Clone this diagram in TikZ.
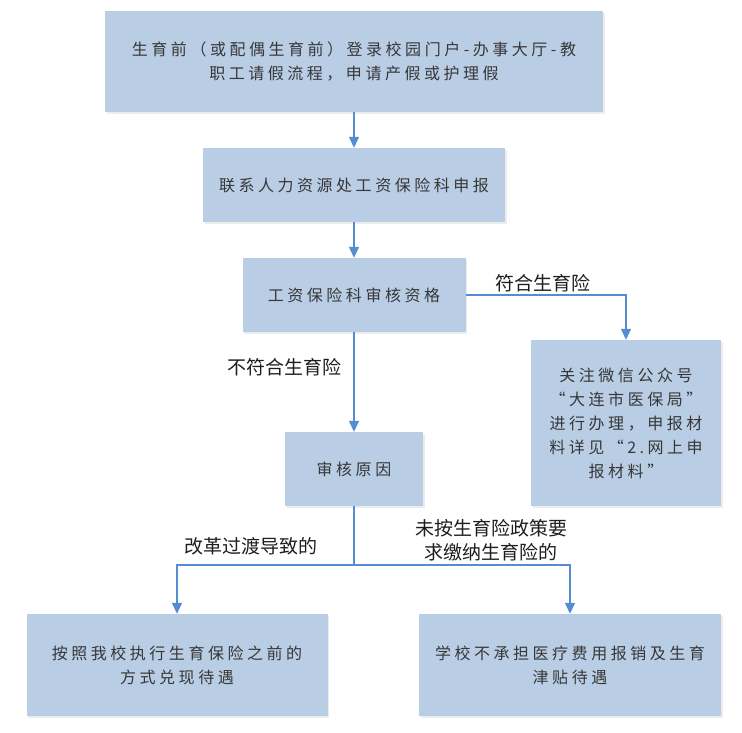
\documentclass[tikz,border=0pt]{standalone}
\usepackage{fontspec}
\usetikzlibrary{arrows.meta,shadows}
\newfontfamily\cjkbox{Noto Sans CJK SC}[LetterSpace=22]
\newfontfamily\cjklab{Noto Sans CJK SC}
\definecolor{boxfill}{RGB}{185,205,229}
\definecolor{linecol}{RGB}{84,141,212}
\definecolor{boxtext}{RGB}{55,55,55}
\definecolor{labtext}{RGB}{30,30,30}
\tikzset{
  fbox/.style={rectangle, fill=boxfill, inner sep=0pt, align=center,
    text=boxtext, font={\cjkbox\fontsize{16}{24}\selectfont},
    drop shadow={shadow xshift=1.5pt, shadow yshift=-1.5pt, fill=black!12, opacity=0.6}},
  flink/.style={draw=linecol, line width=1.3pt},
  farrow/.style={flink, -{Triangle[length=11pt,width=10pt]}},
  flabel/.style={inner sep=0pt, align=center, text=labtext,
    font={\cjklab\fontsize{19}{24}\selectfont}}
}
\begin{document}
\begin{tikzpicture}[x=1pt,y=-1pt]
\useasboundingbox[fill=white] (0,0) rectangle (742,732);
\node[fbox, minimum width=498pt, minimum height=101pt] (b1) at (354,61.5)
  {生育前（或配偶生育前）登录校园门户-办事大厅-教\\职工请假流程，申请产假或护理假};
\node[fbox, minimum width=302pt, minimum height=74pt] (b2) at (354,185)
  {联系人力资源处工资保险科申报};
\node[fbox, minimum width=223pt, minimum height=74pt] (b3) at (354,295)
  {工资保险科审核资格};
\node[fbox, minimum width=190pt, minimum height=166pt] (r) at (626,423)
  {关注微信公众号\\“大连市医保局”\\进行办理，申报材\\料详见“2.网上申\\报材料”};
\node[fbox, minimum width=138pt, minimum height=74pt] (b4) at (354,469)
  {审核原因};
\node[fbox, minimum width=301pt, minimum height=102pt] (bl) at (177,665)
  {按照我校执行生育保险之前的\\方式兑现待遇};
\node[fbox, minimum width=302pt, minimum height=102pt] (br) at (570,665)
  {学校不承担医疗费用报销及生育\\津贴待遇};
\coordinate (j) at (354,565);
\draw[farrow] (b1.south) -- (b2.north);
\draw[farrow] (b2.south) -- (b3.north);
\draw[farrow] (b3.south) -- (b4.north);
\draw[farrow] (b3.east) -| (r.north);
\draw[flink] (b4.south) -- (j);
\draw[farrow] (j) -| (bl.north);
\draw[farrow] (j) -| (br.north);
\node[flabel] (l1) at (543,283) {符合生育险};
\node[flabel] (l2) at (284,367) {不符合生育险};
\node[flabel] (l3) at (251,546) {改革过渡导致的};
\node[flabel] (l4) at (491,540) {未按生育险政策要\\求缴纳生育险的};
\end{tikzpicture}
\end{document}
